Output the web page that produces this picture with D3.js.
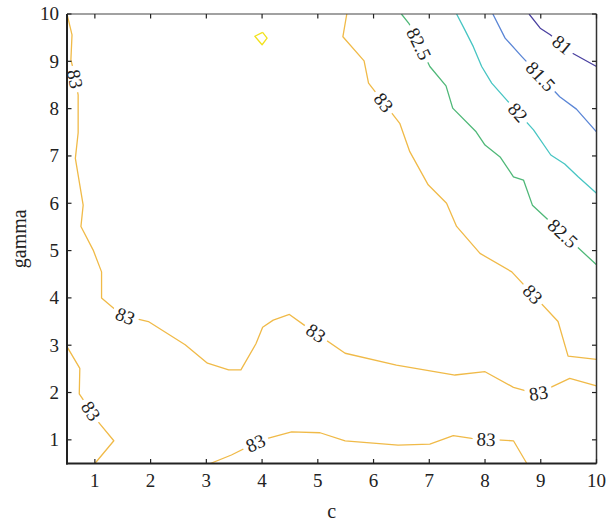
<!DOCTYPE html>
<html>
<head>
<meta charset="utf-8">
<script src="https://cdn.jsdelivr.net/npm/d3@7"></script>
<style>
  html, body { margin: 0; padding: 0; background: #fff; }
  svg { display: block; font-family: "Liberation Serif", "DejaVu Serif", serif; }
</style>
</head>
<body>
<svg id="chart" width="606" height="523"></svg>
<script>
// Axis ticks
const cTicks = [1, 2, 3, 4, 5, 6, 7, 8, 9, 10];
const gammaTicks = [1, 2, 3, 4, 5, 6, 7, 8, 9, 10];

// Contour levels and their colours
const levels = [81, 81.5, 82, 82.5, 83, 83.5];
const levelColors = ["#4a40a0", "#5b86d6", "#47c5c3", "#4fb878", "#f0ba48", "#f2e21c"];

// Contour lines as [c, gamma] vertices
const line81 = [[8.79,10],[8.99,9.70],[9.17,9.56],[9.57,9.17],[10,8.89]];
const line81_5 = [[8.14,10],[8.36,9.49],[8.66,9.10],[9.34,8.25],[9.64,7.99],[10,7.51]];
const line82 = [[7.49,10],[7.64,9.66],[7.79,9.31],[7.94,8.89],[8.12,8.54],[8.39,8.18],[8.87,7.55],[9.18,7.02],[9.43,6.83],[9.67,6.56],[10,6.21]];
const line82_5 = [[6.50,10],[6.64,9.79],[7.01,8.89],[7.30,8.48],[7.42,8.01],[7.84,7.51],[8.00,7.23],[8.27,6.98],[8.51,6.56],[8.69,6.49],[8.85,5.96],[9.13,5.65],[10,4.70]];
const line83a = [[0.5,10],[0.59,9.56],[0.57,9.03],[0.60,8.89],[0.70,8.29],[0.70,7.49],[0.65,6.95],[0.79,5.96],[0.75,5.51],[0.97,5.01],[1.12,4.55],[1.12,4.00],[1.49,3.63],[1.96,3.50],[2.62,3.01],[3.02,2.62],[3.40,2.48],[3.62,2.48],[3.89,3.03],[4.01,3.38],[4.20,3.53],[4.49,3.65],[4.75,3.43],[5.49,2.83],[6.41,2.58],[7.46,2.37],[8.00,2.44],[8.51,2.11],[8.93,1.97],[9.52,2.30],[10,2.14]];
const line83b = [[5.52,10],[5.45,9.52],[5.83,9.01],[5.91,8.54],[6.47,7.69],[6.65,7.09],[6.98,6.39],[7.31,6.00],[7.49,5.51],[7.91,4.94],[8.48,4.55],[9.31,3.50],[9.49,2.77],[10,2.70]];
const line83c = [[3.07,0.5],[3.45,0.68],[4.0,1.0],[4.53,1.17],[5.04,1.15],[5.49,0.98],[6.44,0.89],[7.01,0.91],[7.43,1.09],[7.76,1.03],[8.51,0.98],[8.75,0.5]];
const line83d = [[0.5,2.97],[0.73,2.51],[0.72,1.97],[1.06,1.38],[1.34,0.98],[1.0,0.5]];
const loop83_5 = [[4.01,9.61],[4.09,9.49],[4.0,9.35],[3.87,9.53],[4.01,9.61]];

// Inline labels: [level, c, gamma]
const contourLabels = [
  [83, 0.67, 8.63], [83, 1.56, 3.68], [83, 4.97, 3.26], [83, 8.95, 2.01],
  [83, 3.87, 0.96], [83, 8.02, 1.02], [83, 0.93, 1.61], [83, 6.16, 8.11],
  [83, 8.82, 4.04],
  [82.5, 6.76, 9.34], [82.5, 9.37, 5.33],
  [82, 8.57, 7.90],
  [81.5, 8.96, 8.64],
  [81, 9.38, 9.34]
];

const contours = [
  { level: 81, pts: line81 },
  { level: 81.5, pts: line81_5 },
  { level: 82, pts: line82 },
  { level: 82.5, pts: line82_5 },
  { level: 83, pts: line83a },
  { level: 83, pts: line83b },
  { level: 83, pts: line83c },
  { level: 83, pts: line83d },
  { level: 83.5, pts: loop83_5 }
];

const W = 606, H = 523;
const m = { left: 67, right: 9.5, top: 14, bottom: 59.5 };
const x = d3.scaleLinear().domain([0.5, 10]).range([m.left, W - m.right]);
const y = d3.scaleLinear().domain([0.5, 10]).range([H - m.bottom, m.top]);
const color = d3.scaleOrdinal().domain(levels).range(levelColors);

const svg = d3.select("#chart");
const defs = svg.append("defs");
defs.append("clipPath").attr("id", "plotClip")
  .append("rect")
  .attr("x", x(0.5)).attr("y", y(10))
  .attr("width", x(10) - x(0.5)).attr("height", y(0.5) - y(10));

const mask = defs.append("mask").attr("id", "labelGaps")
  .attr("maskUnits", "userSpaceOnUse")
  .attr("x", 0).attr("y", 0).attr("width", W).attr("height", H);
mask.append("rect").attr("width", W).attr("height", H).attr("fill", "#fff");

const line = d3.line().x(d => x(d[0])).y(d => y(d[1]));

// Contour paths
svg.append("g")
  .attr("clip-path", "url(#plotClip)")
  .append("g")
  .attr("mask", "url(#labelGaps)")
  .selectAll("path")
  .data(contours)
  .join("path")
  .attr("d", d => line(d.pts))
  .attr("fill", "none")
  .attr("stroke", d => color(d.level))
  .attr("stroke-width", 1.3)
  .attr("stroke-linejoin", "round");

// Nearest point on a level's polylines, with local direction
function placeOnLine(level, c, g) {
  const px = x(c), py = y(g);
  let best = null;
  contours.filter(d => d.level === level).forEach(d => {
    const p = d.pts.map(v => [x(v[0]), y(v[1])]);
    const cum = [0];
    for (let i = 1; i < p.length; i++) cum.push(cum[i - 1] + Math.hypot(p[i][0] - p[i - 1][0], p[i][1] - p[i - 1][1]));
    for (let i = 1; i < p.length; i++) {
      const ax = p[i - 1][0], ay = p[i - 1][1], bx = p[i][0], by = p[i][1];
      const L2 = (bx - ax) ** 2 + (by - ay) ** 2;
      let t = L2 ? ((px - ax) * (bx - ax) + (py - ay) * (by - ay)) / L2 : 0;
      t = Math.max(0, Math.min(1, t));
      const qx = ax + t * (bx - ax), qy = ay + t * (by - ay);
      const dist = Math.hypot(px - qx, py - qy);
      if (!best || dist < best.dist) best = { dist, qx, qy, s: cum[i - 1] + t * Math.sqrt(L2), p, cum };
    }
  });
  const at = s => {
    const { p, cum } = best;
    s = Math.max(0, Math.min(cum[cum.length - 1], s));
    for (let i = 1; i < p.length; i++) {
      if (s <= cum[i]) {
        const t = (s - cum[i - 1]) / ((cum[i] - cum[i - 1]) || 1);
        return [p[i - 1][0] + t * (p[i][0] - p[i - 1][0]), p[i - 1][1] + t * (p[i][1] - p[i - 1][1])];
      }
    }
    return p[p.length - 1];
  };
  const a = at(best.s - 11), b = at(best.s + 11);
  let ang = Math.atan2(b[1] - a[1], b[0] - a[0]) * 180 / Math.PI;
  if (ang > 90) ang -= 180;
  if (ang <= -90) ang += 180;
  return { x: best.qx, y: best.qy, angle: ang };
}

// Inline labels with gaps cut into the lines
const labelG = svg.append("g");
contourLabels.forEach(([lev, c, g]) => {
  const pos = placeOnLine(lev, c, g);
  const t = labelG.append("text")
    .attr("transform", `translate(${pos.x},${pos.y}) rotate(${pos.angle})`)
    .attr("text-anchor", "middle")
    .attr("dy", "0.34em")
    .attr("font-size", 19)
    .attr("fill", "#222")
    .text(String(lev));
  const w = t.node().getComputedTextLength() + 8;
  mask.append("rect")
    .attr("transform", `translate(${pos.x},${pos.y}) rotate(${pos.angle})`)
    .attr("x", -w / 2).attr("y", -9).attr("width", w).attr("height", 18)
    .attr("fill", "#000");
});

// Frame
const x0 = x(0.5), x1 = x(10), y0 = y(0.5), y1 = y(10);
svg.append("line").attr("x1", x0).attr("x2", x1).attr("y1", y1).attr("y2", y1)
  .attr("stroke", "#444").attr("stroke-width", 1.2);
svg.append("line").attr("x1", x1).attr("x2", x1).attr("y1", y1).attr("y2", y0)
  .attr("stroke", "#333").attr("stroke-width", 1.5);
svg.append("line").attr("x1", x0).attr("x2", x0).attr("y1", y1).attr("y2", y0 + 1)
  .attr("stroke", "#222").attr("stroke-width", 2);
svg.append("line").attr("x1", x0 - 1).attr("x2", x1).attr("y1", y0).attr("y2", y0)
  .attr("stroke", "#222").attr("stroke-width", 2);

// Inward ticks on all four sides
const tick = 4.5;
const tg = svg.append("g").attr("stroke", "#222").attr("stroke-width", 1.2);
cTicks.forEach(v => {
  tg.append("line").attr("x1", x(v)).attr("x2", x(v)).attr("y1", y0).attr("y2", y0 - tick);
  tg.append("line").attr("x1", x(v)).attr("x2", x(v)).attr("y1", y1).attr("y2", y1 + tick);
});
gammaTicks.forEach(v => {
  tg.append("line").attr("x1", x0).attr("x2", x0 + tick).attr("y1", y(v)).attr("y2", y(v));
  tg.append("line").attr("x1", x1).attr("x2", x1 - tick).attr("y1", y(v)).attr("y2", y(v));
});

// Tick labels
svg.append("g").selectAll("text").data(cTicks).join("text")
  .attr("x", d => x(d)).attr("y", y0 + 23)
  .attr("text-anchor", "middle").attr("font-size", 19).attr("fill", "#222")
  .text(d => d);
svg.append("g").selectAll("text").data(gammaTicks).join("text")
  .attr("x", x0 - 8).attr("y", d => y(d)).attr("dy", "0.34em")
  .attr("text-anchor", "end").attr("font-size", 19).attr("fill", "#222")
  .text(d => d);

// Axis titles
svg.append("text").attr("x", (x0 + x1) / 2).attr("y", 518)
  .attr("text-anchor", "middle").attr("font-size", 20).attr("fill", "#222").text("c");
svg.append("text").attr("transform", `translate(26,${(y0 + y1) / 2}) rotate(-90)`)
  .attr("text-anchor", "middle").attr("font-size", 20).attr("fill", "#222").text("gamma");
</script>
</body>
</html>
